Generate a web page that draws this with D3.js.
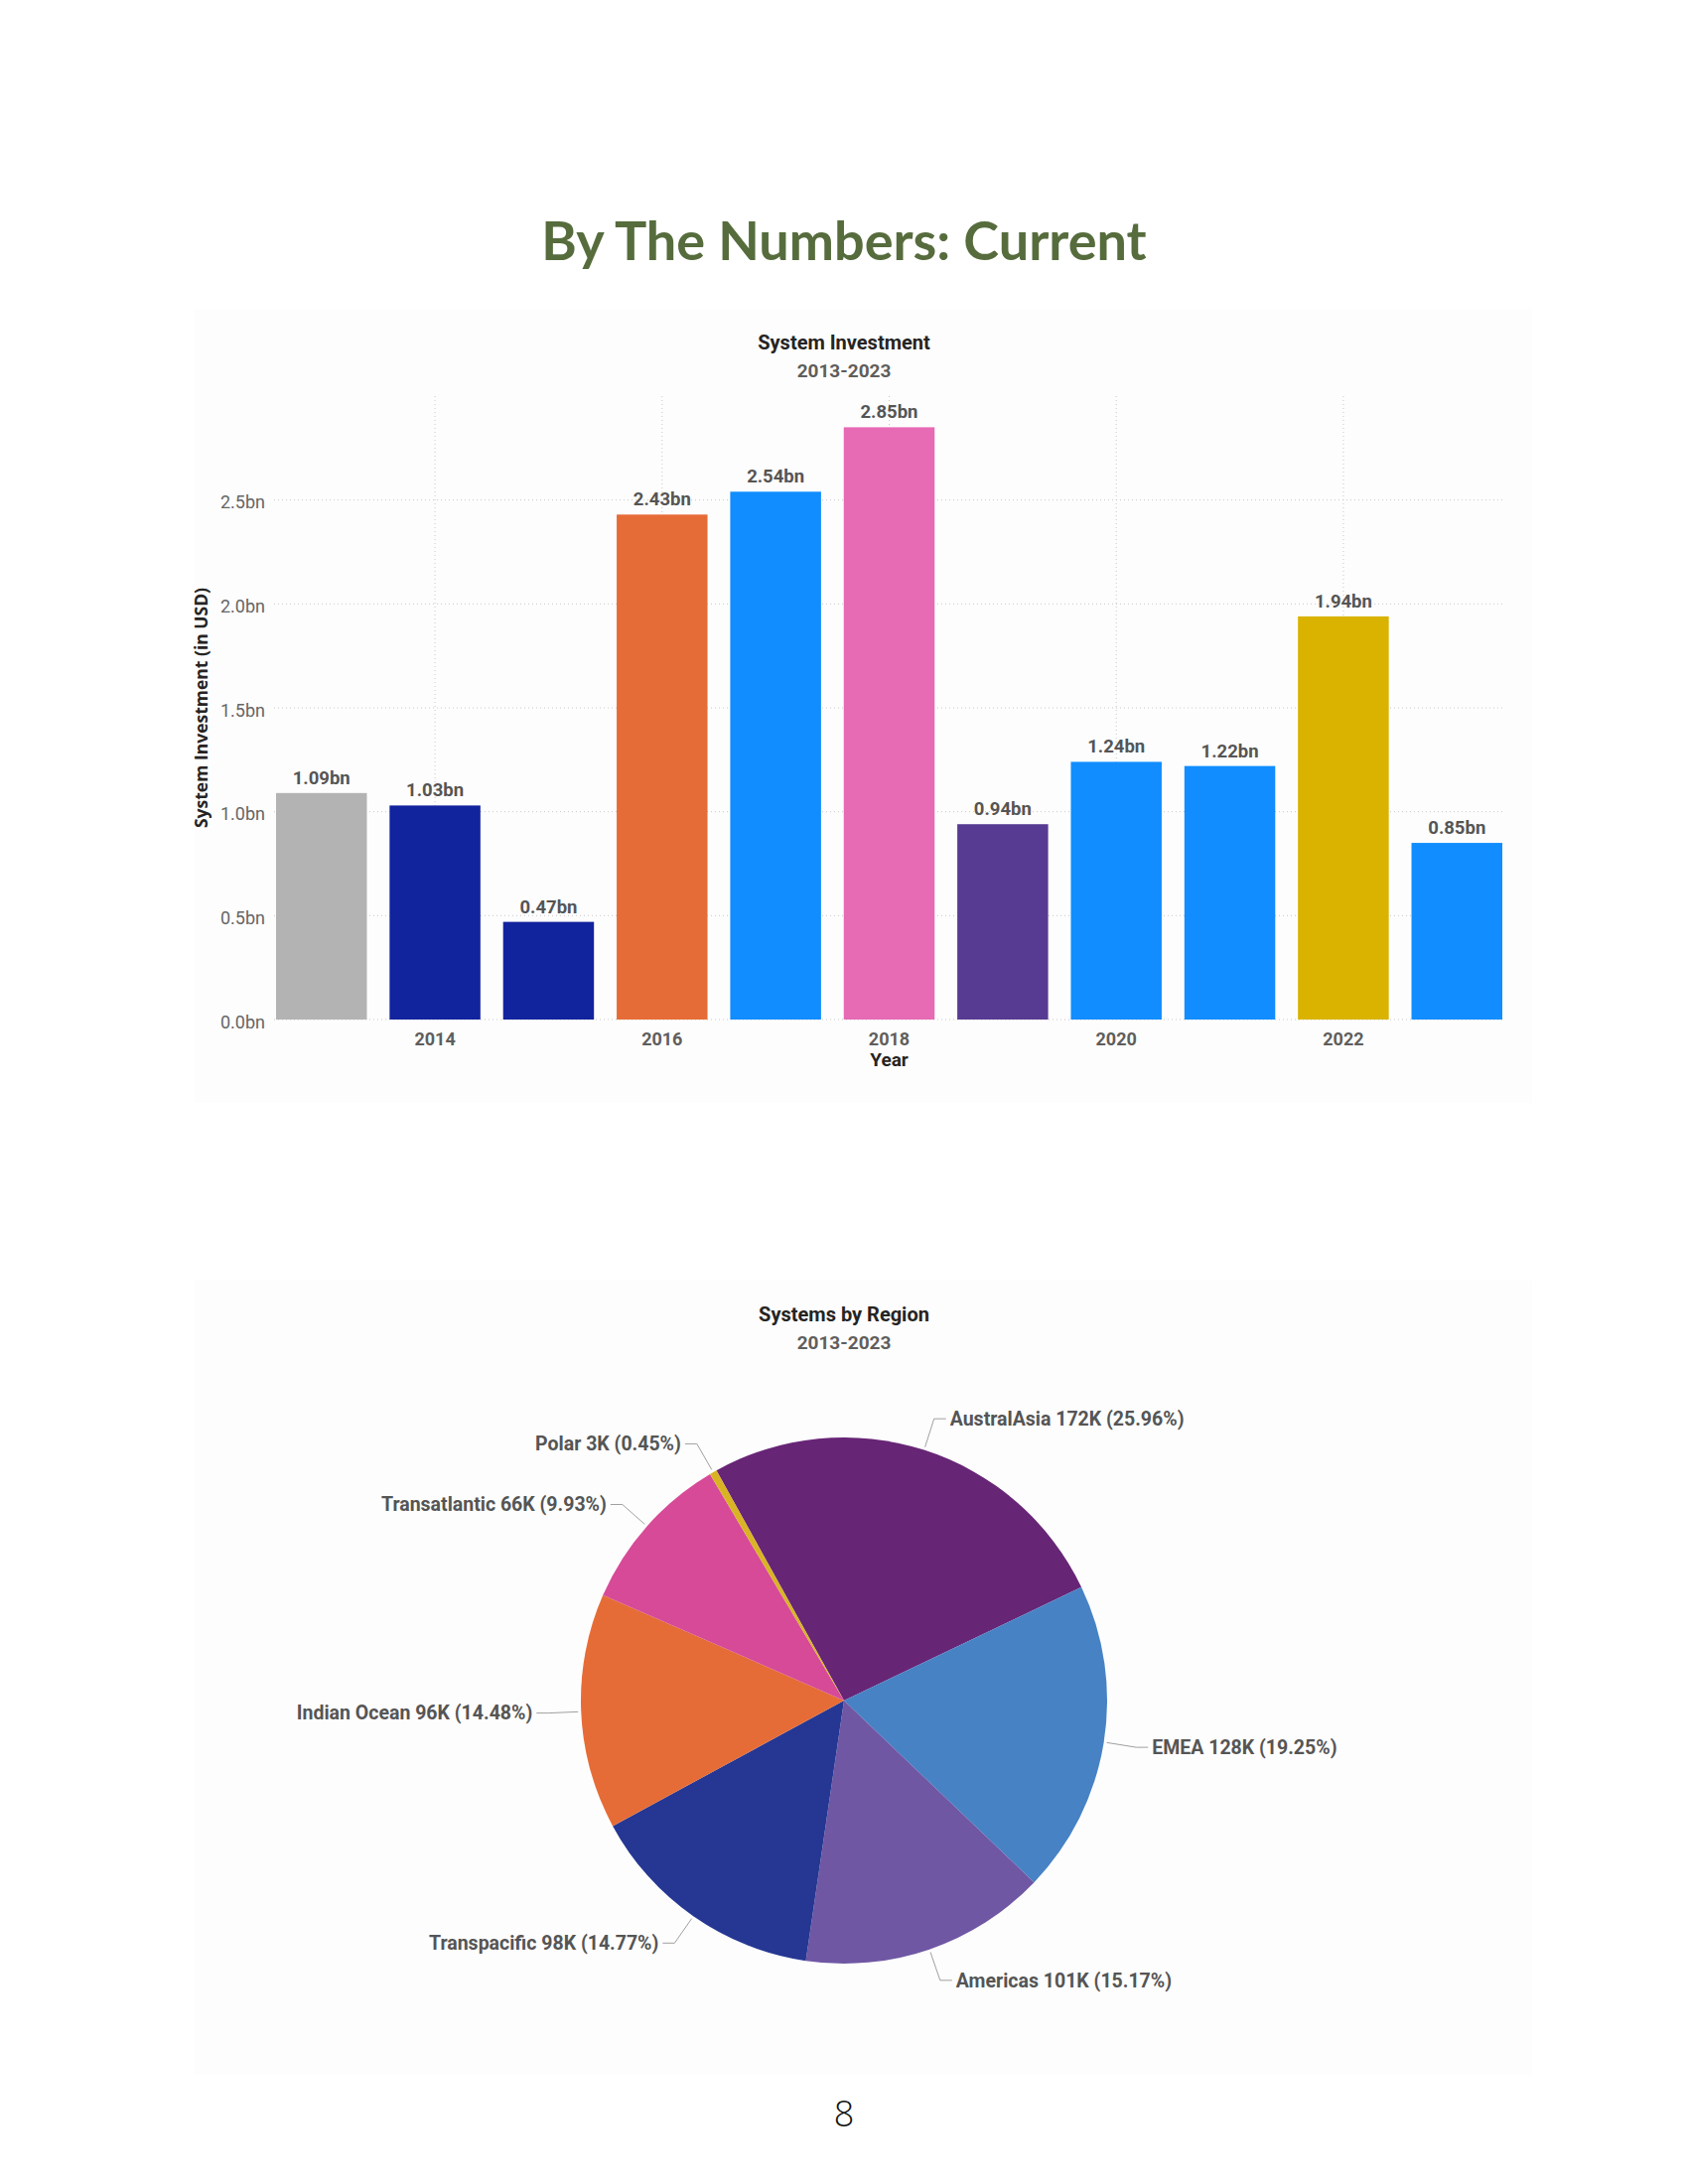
<!DOCTYPE html>
<html>
<head>
<meta charset="utf-8">
<script src="https://cdn.jsdelivr.net/npm/d3@7"></script>
<style>
  html, body { margin: 0; padding: 0; background: #ffffff; }
  svg { display: block; }
</style>
</head>
<body>
<svg id="page" width="1700" height="2200"></svg>
<script>
// ---------- DATA ----------
const pageTitle = "By The Numbers: Current";
const barTitle = "System Investment";
const barSubtitle = "2013-2023";
const years = [2013, 2014, 2015, 2016, 2017, 2018, 2019, 2020, 2021, 2022, 2023];
const investment = [1.09, 1.03, 0.47, 2.43, 2.54, 2.85, 0.94, 1.24, 1.22, 1.94, 0.85];
const barColors = ["#b3b3b3", "#12239e", "#12239e", "#e66c37", "#118dff", "#e66ab4",
                   "#573b92", "#118dff", "#118dff", "#d9b300", "#118dff"];
const yTicks = [0, 0.5, 1.0, 1.5, 2.0, 2.5];
const xTickYears = [2014, 2016, 2018, 2020, 2022];
const yAxisTitle = "System Investment (in USD)";
const xAxisTitle = "Year";

const pieTitle = "Systems by Region";
const pieSubtitle = "2013-2023";
const regions = ["AustralAsia", "EMEA", "Americas", "Transpacific", "Indian Ocean", "Transatlantic", "Polar"];
const regionCountK = [172, 128, 101, 98, 96, 66, 3];
const regionPct = [25.96, 19.25, 15.17, 14.77, 14.48, 9.93, 0.45];
const regionColors = ["#672576", "#4782c4", "#6f57a4", "#253792", "#e66c37", "#d64a98", "#d9b324"];
const pageNumber = "8";

// ---------- PAGE ----------
const svg = d3.select("#page");
const cx = 850;
const condFont = "Roboto, 'DejaVu Sans', sans-serif";

svg.append("text")
  .attr("x", cx).attr("y", 262)
  .attr("text-anchor", "middle")
  .style("font-family", "Lato, 'Open Sans', sans-serif")
  .style("font-weight", 700)
  .style("font-size", "54px")
  .style("fill", "#566c3d")
  .text(pageTitle);

// panels
svg.append("rect").attr("x", 196).attr("y", 311).attr("width", 1347).attr("height", 800).attr("fill", "#fdfdfd");
svg.append("rect").attr("x", 196).attr("y", 1290).attr("width", 1347).attr("height", 800).attr("fill", "#fdfdfd");

// ---------- BAR CHART ----------
const bar = svg.append("g");
bar.append("text").attr("x", cx).attr("y", 345).attr("dy", "0.35em")
  .attr("text-anchor", "middle")
  .style("font-family", condFont).style("font-weight", 700).style("font-size", "20px")
  .style("fill", "#252423").text(barTitle);
bar.append("text").attr("x", cx).attr("y", 373).attr("dy", "0.35em")
  .attr("text-anchor", "middle")
  .style("font-family", condFont).style("font-weight", 700).style("font-size", "19px")
  .style("fill", "#605e5c").text(barSubtitle);

const x = d3.scaleBand().domain(years).range([278, 1513]).paddingInner(0.2).paddingOuter(0);
const y = d3.scaleLinear().domain([0, 3]).range([1027, 399]);

// horizontal gridlines
bar.append("g").selectAll("line").data(yTicks).join("line")
  .attr("x1", 276).attr("x2", 1515)
  .attr("y1", d => y(d)).attr("y2", d => y(d))
  .attr("stroke", "#c8c8c8").attr("stroke-width", 1).attr("stroke-dasharray", "1,3");
// vertical gridlines
bar.append("g").selectAll("line").data(xTickYears).join("line")
  .attr("x1", d => x(d) + x.bandwidth() / 2).attr("x2", d => x(d) + x.bandwidth() / 2)
  .attr("y1", y(3)).attr("y2", y(0))
  .attr("stroke", "#c8c8c8").attr("stroke-width", 1).attr("stroke-dasharray", "1,3");

// y axis
const yAxis = bar.append("g").attr("transform", "translate(267,0)")
  .call(d3.axisLeft(y).tickValues(yTicks).tickSize(0).tickPadding(0).tickFormat(d => d.toFixed(1) + "bn"));
yAxis.select(".domain").remove();
yAxis.selectAll("text")
  .attr("dy", "0.45em")
  .style("font-family", condFont).style("font-weight", 400).style("font-size", "18px")
  .style("fill", "#666666");

// x axis
const xAxis = bar.append("g").attr("transform", "translate(0,1027)")
  .call(d3.axisBottom(x).tickValues(xTickYears).tickSize(0).tickPadding(0));
xAxis.select(".domain").remove();
xAxis.selectAll("text")
  .attr("y", 20).attr("dy", "0.35em")
  .style("font-family", condFont).style("font-weight", 700).style("font-size", "18px")
  .style("fill", "#605e5c");

// bars
const barData = years.map((yr, i) => ({ year: yr, value: investment[i], color: barColors[i] }));
bar.append("g").selectAll("rect").data(barData).join("rect")
  .attr("x", d => x(d.year)).attr("width", x.bandwidth())
  .attr("y", d => y(d.value)).attr("height", d => y(0) - y(d.value))
  .attr("fill", d => d.color);

bar.append("g").selectAll("text").data(barData).join("text")
  .attr("x", d => x(d.year) + x.bandwidth() / 2)
  .attr("y", d => y(d.value) - 9)
  .attr("text-anchor", "middle")
  .style("font-family", condFont).style("font-weight", 700).style("font-size", "18.5px")
  .style("fill", "#555555")
  .text(d => d.value.toFixed(2) + "bn");

// axis titles
bar.append("text")
  .attr("transform", `translate(203,${(y(0) + y(3)) / 2}) rotate(-90)`)
  .attr("text-anchor", "middle").attr("dy", "0.35em")
  .style("font-family", "'Open Sans', sans-serif").style("font-weight", 700).style("font-size", "17.5px")
  .style("fill", "#252423").text(yAxisTitle);
bar.append("text")
  .attr("x", x(2018) + x.bandwidth() / 2).attr("y", 1067).attr("dy", "0.35em")
  .attr("text-anchor", "middle")
  .style("font-family", condFont).style("font-weight", 700).style("font-size", "19px")
  .style("fill", "#252423").text(xAxisTitle);

// ---------- PIE CHART ----------
const pieG = svg.append("g");
pieG.append("text").attr("x", cx).attr("y", 1324).attr("dy", "0.35em")
  .attr("text-anchor", "middle")
  .style("font-family", condFont).style("font-weight", 700).style("font-size", "20px")
  .style("fill", "#252423").text(pieTitle);
pieG.append("text").attr("x", cx).attr("y", 1352).attr("dy", "0.35em")
  .attr("text-anchor", "middle")
  .style("font-family", condFont).style("font-weight", 700).style("font-size", "19px")
  .style("fill", "#605e5c").text(pieSubtitle);

const pcx = 850, pcy = 1713, R = 265;
const pieData = regions.map((r, i) => ({ name: r, k: regionCountK[i], pct: regionPct[i], color: regionColors[i] }));
const startA = -29 * Math.PI / 180;
const arcs = d3.pie().sort(null).value(d => d.pct).startAngle(startA).endAngle(startA + 2 * Math.PI)(pieData);
const arcGen = d3.arc().innerRadius(0).outerRadius(R);

const pc = pieG.append("g").attr("transform", `translate(${pcx},${pcy})`);
pc.selectAll("path").data(arcs).join("path")
  .attr("d", arcGen).attr("fill", d => d.data.color);

const lblR0 = R + 3, lblR1 = R + 33, hLen = 12, gap = 4;
arcs.forEach(a => {
  const m = (a.startAngle + a.endAngle) / 2;
  const sx = Math.sin(m), sy = -Math.cos(m);
  const side = sx >= 0 ? 1 : -1;
  const p0 = [lblR0 * sx, lblR0 * sy];
  const p1 = [lblR1 * sx, lblR1 * sy];
  const p2 = [p1[0] + side * hLen, p1[1]];
  pc.append("polyline")
    .attr("points", [p0, p1, p2].map(p => p.join(",")).join(" "))
    .attr("fill", "none").attr("stroke", "#a0a0a0").attr("stroke-width", 1);
  pc.append("text")
    .attr("x", p2[0] + side * gap).attr("y", p2[1]).attr("dy", "0.35em")
    .attr("text-anchor", side > 0 ? "start" : "end")
    .style("font-family", condFont).style("font-weight", 700).style("font-size", "19.5px")
    .style("fill", "#555555")
    .text(`${a.data.name} ${a.data.k}K (${a.data.pct.toFixed(2)}%)`);
});

// page number
svg.append("text").attr("x", cx).attr("y", 2129).attr("dy", "0.35em")
  .attr("text-anchor", "middle")
  .style("font-family", "'Open Sans', sans-serif").style("font-weight", 300).style("font-size", "36px")
  .style("fill", "#111111").text(pageNumber);
</script>
</body>
</html>
